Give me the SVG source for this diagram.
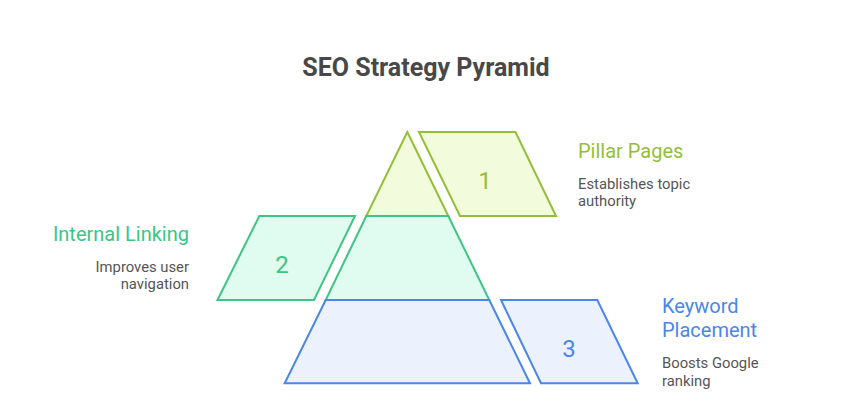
<svg xmlns="http://www.w3.org/2000/svg" width="852" height="418" viewBox="0 0 852 418">
<style>
text{font-family:Roboto,"Liberation Sans",sans-serif}
.title{font-size:25px;font-weight:bold;fill:#484848;text-anchor:middle}
.head{font-size:20px}
.desc{font-size:14.8px;fill:#555555}
.num{font-size:24px;text-anchor:middle}
.g1{fill:#F2FCDC;stroke:#93BF38;stroke-width:2;stroke-linejoin:miter}
.g2{fill:#E0FBEF;stroke:#3CC583;stroke-width:2}
.g3{fill:#EBF2FE;stroke:#4A86E8;stroke-width:2}
</style>
<rect width="852" height="418" fill="#ffffff"/>
<text class="title" x="426" y="76">SEO Strategy Pyramid</text>
<g id="level1">
<polygon class="g1" points="407.3,132 448.3,216 366.3,216"/>
<polygon class="g1" points="419,132 515.5,132 556,216 460,216"/>
<text class="num" x="485" y="189" fill="#93BF38">1</text>
<text class="head" x="578" y="158" fill="#93BF38">Pillar Pages</text>
<text class="desc" x="578" y="189">Establishes topic</text>
<text class="desc" x="578" y="206">authority</text>
</g>
<g id="level2">
<polygon class="g2" points="366.3,216 448.3,216 489.3,300 325.7,300"/>
<polygon class="g2" points="259.3,216 355,216 314,300 217.5,300"/>
<text class="num" x="282" y="273" fill="#3CC583">2</text>
<text class="head" x="189" y="241" fill="#3CC583" text-anchor="end">Internal Linking</text>
<text class="desc" x="189" y="272" text-anchor="end">Improves user</text>
<text class="desc" x="189" y="289" text-anchor="end">navigation</text>
</g>
<g id="level3">
<polygon class="g3" points="325.7,300 489.3,300 530,383.3 284.7,383.3"/>
<polygon class="g3" points="501,300 597.3,300 637.7,383.3 541,383.3"/>
<text class="num" x="569" y="357" fill="#4A86E8">3</text>
<text class="head" x="662" y="313" fill="#4A86E8">Keyword</text>
<text class="head" x="662" y="337" fill="#4A86E8">Placement</text>
<text class="desc" x="662" y="368">Boosts Google</text>
<text class="desc" x="662" y="386">ranking</text>
</g>
<g id="connectors"></g>
</svg>
